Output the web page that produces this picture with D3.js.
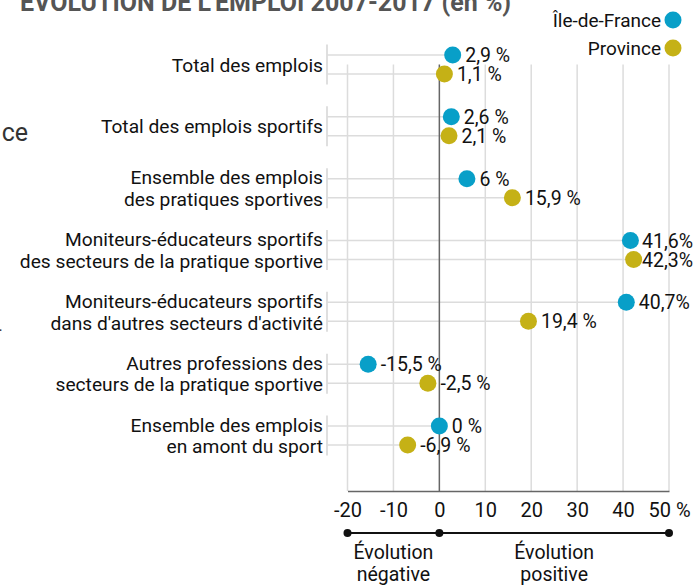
<!DOCTYPE html>
<html>
<head>
<meta charset="utf-8">
<script src="https://cdn.jsdelivr.net/npm/d3@7"></script>
<style>
  html, body { margin: 0; padding: 0; background: #fff; }
  svg { display: block; }
  text { font-family: Roboto, "Liberation Sans", sans-serif; }
</style>
</head>
<body>
<svg id="chart" width="699" height="585"></svg>
<script>
// ---- Data ----
const categories = [
  "Total des emplois",
  "Total des emplois sportifs",
  "Ensemble des emplois\ndes pratiques sportives",
  "Moniteurs-éducateurs sportifs\ndes secteurs de la pratique sportive",
  "Moniteurs-éducateurs sportifs\ndans d'autres secteurs d'activité",
  "Autres professions des\nsecteurs de la pratique sportive",
  "Ensemble des emplois\nen amont du sport"
];
const seriesNames = ["Île-de-France", "Province"];
const idfValues = [2.9, 2.6, 6, 41.6, 40.7, -15.5, 0];
const provinceValues = [1.1, 2.1, 15.9, 42.3, 19.4, -2.5, -6.9];
const idfLabels = ["2,9 %", "2,6 %", "6 %", "41,6%", "40,7%", "-15,5 %", "0 %"];
const provinceLabels = ["1,1 %", "2,1 %", "15,9 %", "42,3%", "19,4 %", "-2,5 %", "-6,9 %"];
const xTicks = [-20, -10, 0, 10, 20, 30, 40, 50];
const xTickLabels = ["-20", "-10", "0", "10", "20", "30", "40", "50 %"];
const titleText = "ÉVOLUTION DE L'EMPLOI 2007-2017 (en %)";

// ---- Layout ----
const colors = { "Île-de-France": "#089fc8", "Province": "#c5b116" };
const svg = d3.select("#chart");
const x = d3.scaleLinear().domain([-20, 50]).range([347.5, 669]);
const y = d3.scalePoint().domain(categories).range([64.5, 435.5]);
const pairOffset = { "Île-de-France": -9.5, "Province": 9.5 };
const axisY = 491;
const bracketX = 327;
const r = 8.5;

const rows = [];
categories.forEach((c, i) => {
  rows.push({ cat: c, series: "Île-de-France", value: idfValues[i], label: idfLabels[i] });
  rows.push({ cat: c, series: "Province", value: provinceValues[i], label: provinceLabels[i] });
});

// Title (cut off at top)
svg.append("text")
  .attr("x", 20).attr("y", 10.5)
  .attr("font-size", 25).attr("font-weight", 700)
  .attr("fill", "#555")
  .text(titleText);

// Fragments of neighbouring text on the left
svg.append("text")
  .attr("x", 28).attr("y", 141)
  .attr("text-anchor", "end")
  .attr("font-family", "Liberation Sans, Arial, sans-serif")
  .attr("font-size", 25).attr("fill", "#333")
  .text("ce");
svg.append("text")
  .attr("x", -1.5).attr("y", 331)
  .attr("font-family", "Liberation Sans, Arial, sans-serif")
  .attr("font-size", 16).attr("fill", "#333")
  .text(".");

// Vertical gridlines
svg.append("g").selectAll("line")
  .data(xTicks.filter(d => d !== 0))
  .join("line")
  .attr("x1", d => x(d)).attr("x2", d => x(d))
  .attr("y1", y(categories[0])).attr("y2", axisY)
  .attr("stroke", "#dcdcdc").attr("stroke-width", 1.5);

// Category brackets
svg.append("g").selectAll("line")
  .data(categories)
  .join("line")
  .attr("x1", bracketX).attr("x2", bracketX)
  .attr("y1", d => y(d) - 20).attr("y2", d => y(d) + 20)
  .attr("stroke", "#d4d4d4").attr("stroke-width", 1.5);

// Row lines from bracket to dot
svg.append("g").selectAll("line")
  .data(rows)
  .join("line")
  .attr("x1", bracketX).attr("x2", d => x(d.value))
  .attr("y1", d => y(d.cat) + pairOffset[d.series])
  .attr("y2", d => y(d.cat) + pairOffset[d.series])
  .attr("stroke", "#dcdcdc").attr("stroke-width", 1.5);

// Zero line
svg.append("line")
  .attr("x1", x(0)).attr("x2", x(0))
  .attr("y1", y(categories[0])).attr("y2", axisY)
  .attr("stroke", "#666").attr("stroke-width", 1.5);

// Bottom axis
const xAxis = d3.axisBottom(x).tickValues(xTicks).tickSize(0).tickPadding(0)
  .tickFormat((d, i) => xTickLabels[i]);
const gAxis = svg.append("g").attr("transform", `translate(0,${axisY})`).call(xAxis);
gAxis.select(".domain").attr("stroke", "#666").attr("stroke-width", 1.5);
gAxis.selectAll(".tick text")
  .attr("font-family", "Roboto, sans-serif")
  .attr("font-size", 20).attr("fill", "#111")
  .attr("dy", null).attr("y", 26);

// Category labels
const labG = svg.append("g");
categories.forEach(c => {
  const lines = c.split("\n");
  const t = labG.append("text")
    .attr("text-anchor", "end")
    .attr("font-size", 19.2).attr("fill", "#111");
  const cy = y(c);
  const first = lines.length === 1 ? cy + 7 : cy - 4;
  lines.forEach((ln, i) => {
    t.append("tspan").attr("x", bracketX - 4).attr("y", first + i * 21.8).text(ln);
  });
});

// Dots
svg.append("g").selectAll("circle")
  .data(rows)
  .join("circle")
  .attr("cx", d => x(d.value))
  .attr("cy", d => y(d.cat) + pairOffset[d.series])
  .attr("r", r)
  .attr("fill", d => colors[d.series]);

// Value labels
svg.append("g").selectAll("text")
  .data(rows)
  .join("text")
  .attr("font-size", 19.5).attr("fill", "#111")
  .attr("y", d => y(d.cat) + pairOffset[d.series] + 7)
  .text(d => d.label)
  .each(function(d) {
    const w = this.getComputedTextLength();
    const px = Math.min(x(d.value) + r + 4, 693 - w);
    d3.select(this).attr("x", px);
  });

// Legend
const legY = { "Île-de-France": 20, "Province": 48 };
const leg = svg.append("g");
seriesNames.forEach(s => {
  leg.append("circle").attr("cx", 673).attr("cy", legY[s]).attr("r", r).attr("fill", colors[s]);
  leg.append("text").attr("x", 661).attr("y", legY[s] + 6.8)
    .attr("text-anchor", "end").attr("font-size", 19).attr("fill", "#111").text(s);
});

// Bottom annotation
const annY = 533;
svg.append("line")
  .attr("x1", x(-20)).attr("x2", x(50))
  .attr("y1", annY).attr("y2", annY)
  .attr("stroke", "#111").attr("stroke-width", 2);
svg.append("g").selectAll("circle")
  .data([-20, 0, 50])
  .join("circle")
  .attr("cx", d => x(d)).attr("cy", annY).attr("r", 4).attr("fill", "#111");
const annot = [
  { lines: ["Évolution", "négative"], cx: (x(-20) + x(0)) / 2 },
  { lines: ["Évolution", "positive"], cx: (x(0) + x(50)) / 2 }
];
annot.forEach(a => {
  const t = svg.append("text").attr("text-anchor", "middle").attr("font-size", 19.5)
    .attr("fill", "#111");
  a.lines.forEach((ln, i) => {
    t.append("tspan").attr("x", a.cx).attr("y", 559 + i * 21.5).text(ln);
  });
});
</script>
</body>
</html>
